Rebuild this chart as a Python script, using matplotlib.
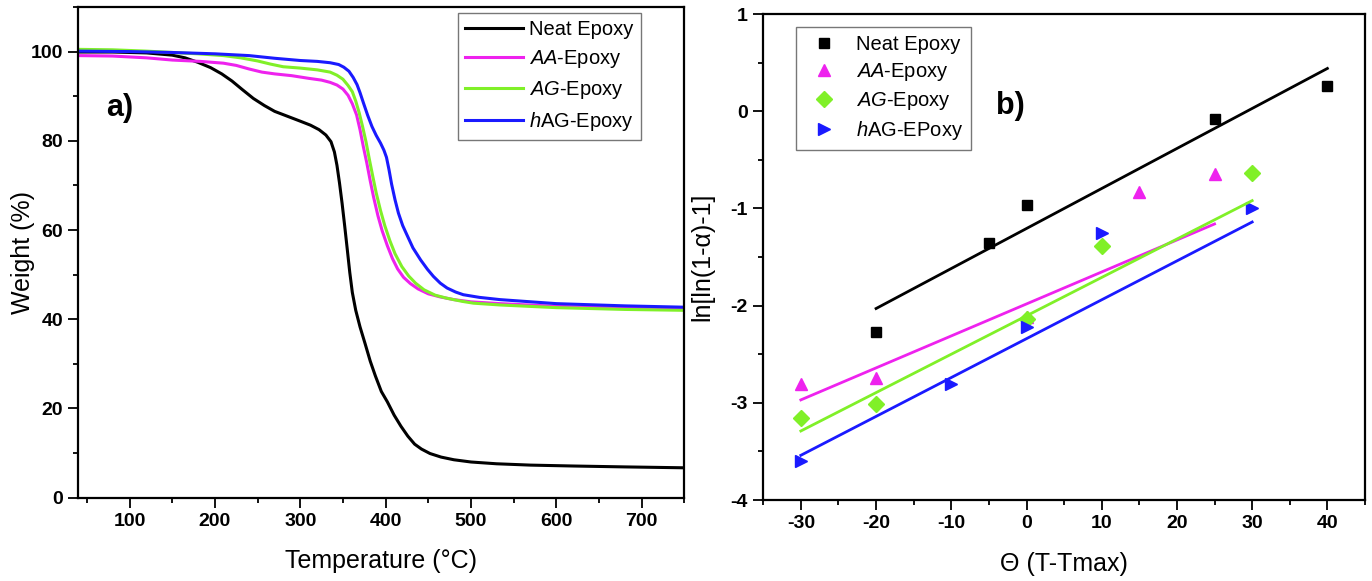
import numpy as np
import matplotlib
matplotlib.use('Agg')
import matplotlib.pyplot as plt
from matplotlib.ticker import MultipleLocator

plt.rcParams['font.family'] = ['Liberation Sans', 'DejaVu Sans']
plt.rcParams['mathtext.fontset'] = 'custom'
plt.rcParams['mathtext.rm'] = 'Liberation Sans'
plt.rcParams['mathtext.it'] = 'Liberation Sans:italic'
plt.rcParams['axes.unicode_minus'] = False

# ========== a) TGA curves, temperature (C) vs weight (%)
neat_T = [40, 80, 120, 150, 165, 180, 195, 208, 220, 232, 245, 258, 270, 285, 300, 312, 322,
          330, 336, 340, 343, 346, 349, 352, 355, 358, 361, 365, 370, 376, 382, 388, 395, 402,
          410, 418, 426, 434, 442, 452, 465, 480, 500, 530, 570, 620, 680, 750]
neat_W = [99.9, 99.9, 99.7, 99.2, 98.6, 97.6, 96.4, 95.0, 93.4, 91.5, 89.5, 87.9, 86.6, 85.5,
          84.4, 83.5, 82.5, 81.3, 79.8, 77.5, 74.5, 70.5, 66.0, 61.0, 55.8, 50.5, 46.0, 42.0,
          38.3, 34.5, 30.6, 27.3, 23.8, 21.5, 18.5, 16.0, 13.8, 12.0, 10.9, 9.9, 9.1, 8.5, 8.0,
          7.6, 7.3, 7.1, 6.9, 6.7]

aa_T = [40, 80, 120, 150, 183, 210, 225, 240, 255, 270, 290, 310, 325, 335, 343, 350, 356, 361,
        366, 370, 374, 378, 382, 386, 391, 396, 402, 408, 414, 421, 429, 438, 450, 464, 480,
        500, 534, 600, 680, 750]
aa_W = [99.1, 99.0, 98.6, 98.1, 97.8, 97.4, 96.9, 96.1, 95.4, 95.0, 94.6, 94.0, 93.6, 93.1,
        92.5, 91.6, 90.2, 88.3, 85.8, 82.5, 78.6, 75.0, 71.0, 67.3, 63.2, 59.8, 56.5, 53.6,
        51.3, 49.4, 48.0, 46.8, 45.7, 45.0, 44.4, 43.9, 43.5, 42.9, 42.5, 42.3]

ag_T = [40, 80, 120, 150, 180, 210, 230, 250, 265, 280, 300, 320, 335, 343, 350, 356, 361, 365,
        369, 373, 377, 381, 385, 389, 394, 399, 405, 411, 419, 427, 435, 445, 458, 472, 490,
        503, 534, 600, 680, 750]
ag_W = [100.5, 100.4, 100.1, 99.8, 99.5, 99.1, 98.6, 97.9, 97.2, 96.6, 96.3, 95.9, 95.4, 94.7,
        93.8, 92.4, 91.0, 88.9, 86.3, 83.2, 79.8, 75.8, 72.0, 68.3, 64.4, 61.0, 57.6, 54.7,
        51.8, 49.7, 48.1, 46.6, 45.4, 44.7, 44.0, 43.6, 43.2, 42.6, 42.2, 42.0]

hag_T = [40, 100, 150, 200, 240, 270, 300, 320, 335, 345, 351, 357, 362, 366.5, 370, 374, 379,
         384, 389, 394, 398, 401, 404, 407, 411, 415, 420, 425, 432, 441, 449, 456, 464, 472,
         482, 491, 510, 534, 600, 680, 750]
hag_W = [100.1, 100.0, 99.8, 99.5, 99.1, 98.5, 98.0, 97.8, 97.5, 97.1, 96.5, 95.6, 94.2, 92.6,
         90.8, 88.5, 85.7, 83.2, 81.2, 79.5, 77.9, 76.3, 73.5, 70.3, 66.8, 63.8, 61.0, 58.9,
         56.0, 53.3, 51.2, 49.6, 48.1, 47.0, 46.1, 45.5, 44.9, 44.4, 43.5, 43.0, 42.7]

# ========== b) ln[ln(1-a)-1] vs theta
neat_x = [-20, -5, 0, 25, 40]
neat_y = [-2.27, -1.36, -0.96, -0.08, 0.26]
aa_x = [-30, -20, 0, 15, 25]
aa_y = [-2.81, -2.74, -2.12, -0.83, -0.65]
ag_x = [-30, -20, 0, 10, 30]
ag_y = [-3.16, -3.01, -2.14, -1.39, -0.64]
hag_x = [-30, -10, 0, 10, 30]
hag_y = [-3.60, -2.81, -2.22, -1.25, -1.00]

# fitted lines (end points)
neat_fit_x = [-20, 40]
neat_fit_y = [-2.03, 0.44]
aa_fit_x = [-30, 25]
aa_fit_y = [-2.97, -1.16]
ag_fit_x = [-30, 30]
ag_fit_y = [-3.29, -0.92]
hag_fit_x = [-30, 30]
hag_fit_y = [-3.54, -1.14]

names_a = ['Neat Epoxy', '$AA$-Epoxy', '$AG$-Epoxy', '$h$AG-Epoxy']
names_b = ['Neat Epoxy', '$AA$-Epoxy', '$AG$-Epoxy', '$h$AG-EPoxy']
c_neat, c_aa, c_ag, c_hag = 'black', '#ee22ee', '#80f028', '#1a1aff'


def style_axes(ax):
    for s in ax.spines.values():
        s.set_linewidth(1.6)
    ax.tick_params(which='both', direction='out', top=False, right=False, width=1.3,
                   labelsize=14, pad=4)
    ax.tick_params(which='major', length=7)
    ax.tick_params(which='minor', length=3.5)
    for lab in ax.get_xticklabels() + ax.get_yticklabels():
        lab.set_fontweight('bold')


fig = plt.figure(figsize=(13.72, 5.81), dpi=100)

# ---------- a)
ax1 = fig.add_axes([0.0571, 0.1434, 0.4417, 0.8446])
ax1.plot(neat_T, neat_W, color=c_neat, lw=2.2, label=names_a[0])
ax1.plot(aa_T, aa_W, color=c_aa, lw=2.2, label=names_a[1])
ax1.plot(ag_T, ag_W, color=c_ag, lw=2.2, label=names_a[2])
ax1.plot(hag_T, hag_W, color=c_hag, lw=2.2, label=names_a[3])
ax1.set_xlim(40, 750)
ax1.set_ylim(0, 110)
ax1.xaxis.set_major_locator(MultipleLocator(100))
ax1.xaxis.set_minor_locator(MultipleLocator(50))
ax1.yaxis.set_major_locator(MultipleLocator(20))
ax1.yaxis.set_minor_locator(MultipleLocator(10))
ax1.set_xlabel('Temperature (°C)', fontsize=18, labelpad=14)
ax1.set_ylabel('Weight (%)', fontsize=18)
ax1.yaxis.set_label_coords(-0.072, 0.5)
style_axes(ax1)
ax1.text(0.069, 0.794, 'a)', transform=ax1.transAxes, fontsize=22, fontweight='bold',
         ha='center', va='center')
leg1 = ax1.legend(loc='upper right', bbox_to_anchor=(0.9285, 0.988), borderaxespad=0,
                  fontsize=14.5, handlelength=2.9, handletextpad=0.3, labelspacing=0.45,
                  fancybox=False, edgecolor='#555555', borderpad=0.35)
leg1.get_frame().set_linewidth(1.0)

# ---------- b)
ax2 = fig.add_axes([0.5563, 0.1394, 0.4386, 0.8365])
ax2.plot(neat_x, neat_y, 's', color=c_neat, ms=7, label=names_b[0])
ax2.plot(aa_x, aa_y, '^', color=c_aa, ms=9, label=names_b[1])
ax2.plot(ag_x, ag_y, 'D', color=c_ag, ms=8, label=names_b[2])
ax2.plot(hag_x, hag_y, '>', color=c_hag, ms=9, label=names_b[3])
ax2.plot(neat_fit_x, neat_fit_y, color=c_neat, lw=2)
ax2.plot(aa_fit_x, aa_fit_y, color=c_aa, lw=2)
ax2.plot(ag_fit_x, ag_fit_y, color=c_ag, lw=2)
ax2.plot(hag_fit_x, hag_fit_y, color=c_hag, lw=2)
ax2.set_xlim(-35, 45)
ax2.set_ylim(-4, 1)
ax2.xaxis.set_major_locator(MultipleLocator(10))
ax2.xaxis.set_minor_locator(MultipleLocator(5))
ax2.yaxis.set_major_locator(MultipleLocator(1))
ax2.yaxis.set_minor_locator(MultipleLocator(0.5))
ax2.set_xlabel('Θ (T-Tmax)', fontsize=18, labelpad=14)
ax2.set_ylabel('ln[ln(1-α)-1]', fontsize=18)
ax2.yaxis.set_label_coords(-0.082, 0.5)
style_axes(ax2)
ax2.text(0.41, 0.811, 'b)', transform=ax2.transAxes, fontsize=22, fontweight='bold',
         ha='center', va='center')
leg2 = ax2.legend(loc='upper left', bbox_to_anchor=(0.054, 0.973), borderaxespad=0,
                  fontsize=14.5, handlelength=2.0, handletextpad=0.6, labelspacing=0.35,
                  fancybox=False, edgecolor='#555555', borderpad=0.4)
leg2.get_frame().set_linewidth(1.0)

plt.savefig('out.png', dpi=100)
